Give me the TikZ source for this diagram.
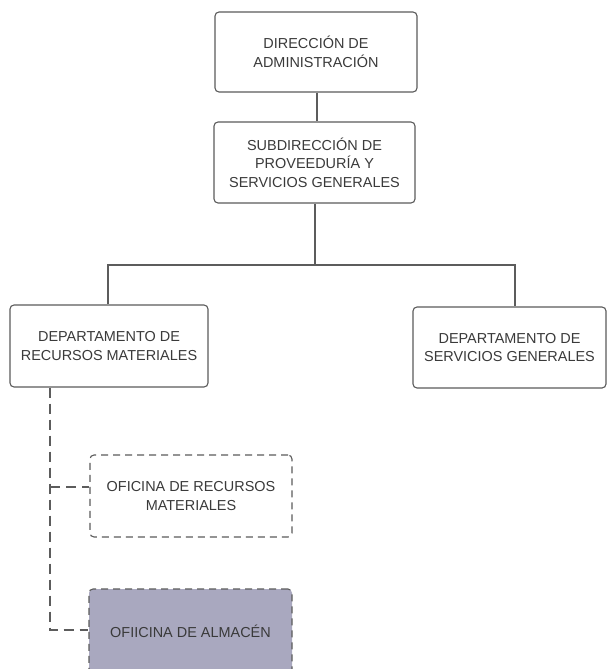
\documentclass[tikz,border=0pt]{standalone}
\usepackage{fontspec}
\setmainfont{Liberation Sans}
\definecolor{edge}{HTML}{5C5C5C}
\definecolor{ink}{HTML}{3A3A3A}
\definecolor{storefill}{HTML}{A9A8BF}
\begin{document}
\begin{tikzpicture}[x=1bp,y=-1bp,
  unit/.style={draw=edge,line width=1.1bp,rounded corners=4bp,align=center,
    text=ink,font=\fontsize{14.5}{18.5}\selectfont,inner sep=0pt},
  dashunit/.style={unit,dash pattern=on 7bp off 5bp},
  link/.style={draw=edge,line width=1.1bp},
  dashlink/.style={link,dash pattern=on 10bp off 6bp}]
\useasboundingbox (0,0) rectangle (608,669);
\clip (0,0) rectangle (608,669);
\fill[white] (0,0) rectangle (608,669);

% management levels
\node[unit,minimum width=202bp,minimum height=80bp] (dir) at (316,52)
  {DIRECCIÓN DE\\ADMINISTRACIÓN};
\node[unit,minimum width=201bp,minimum height=81bp] (sub) at (314.5,162.5)
  {SUBDIRECCIÓN DE\\PROVEEDURÍA Y\\SERVICIOS GENERALES};

% departments
\node[unit,minimum width=198bp,minimum height=82bp] (dm) at (109,346)
  {DEPARTAMENTO DE\\RECURSOS MATERIALES};
\node[unit,minimum width=193bp,minimum height=81bp] (ds) at (509.5,347.5)
  {DEPARTAMENTO DE\\SERVICIOS GENERALES};

% offices
\node[dashunit,minimum width=202bp,minimum height=82bp] (o1) at (191,496)
  {OFICINA DE RECURSOS\\MATERIALES};
\node[dashunit,fill=storefill,minimum width=203bp,minimum height=84bp] (o2) at (190.5,631)
  {OFIICINA DE ALMACÉN};

% solid connectors
\coordinate (bus) at (0,265);
\draw[link] (dir.south -| 317,0) -- (sub.north -| 317,0);
\draw[link] (sub.south -| 315,0) -- (bus -| 315,0);
\draw[link] (dm.north -| 108,0) -- (bus -| 108,0) -- (bus -| 515,0) -- (ds.north -| 515,0);

% dashed connectors
\coordinate (ja) at (50,487);
\coordinate (jb) at (50,630);
\draw[dashlink] (dm.south -| jb) -- (jb) -- (o2.west |- jb);
\draw[dashlink] (ja) -- (o1.west |- ja);
\end{tikzpicture}
\end{document}
